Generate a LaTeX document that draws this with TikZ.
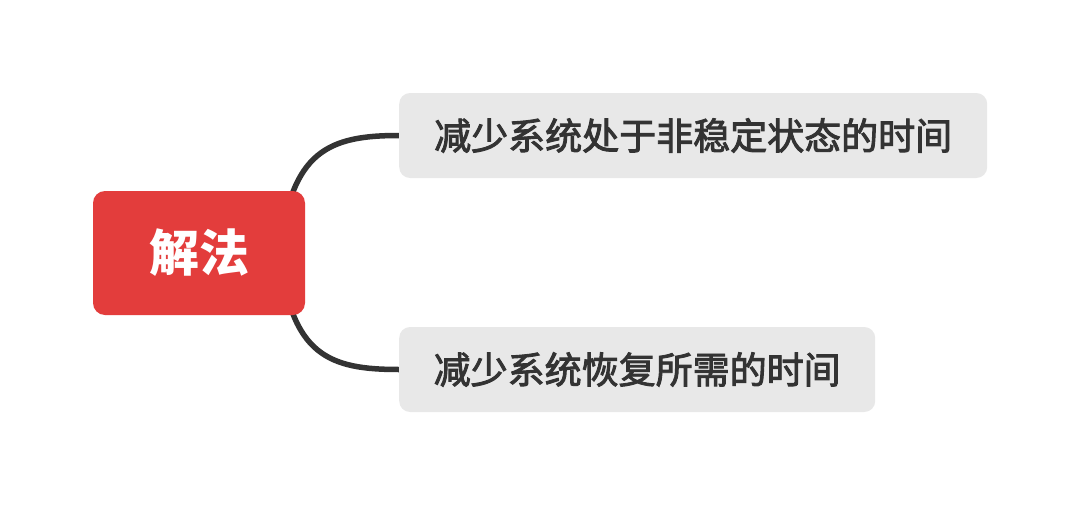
\documentclass[tikz,border=0pt]{standalone}
\usepackage{fontspec}
\newfontfamily\cjk{Noto Sans CJK SC}
\newfontfamily\cjkmed{Noto Sans CJK SC}[FakeBold=2.5]
\usetikzlibrary{backgrounds}
\definecolor{rootred}{HTML}{E33D3C}
\definecolor{leafgray}{HTML}{E8E8E8}
\definecolor{ink}{HTML}{333333}
\tikzset{
  rootbox/.style={fill=rootred, rounded corners=12pt, minimum width=212pt, minimum height=124pt, inner sep=0pt,
    text=white, font=\cjk\bfseries\fontsize{50}{60}\selectfont},
  leafbox/.style={fill=leafgray, rounded corners=11pt, minimum height=85pt, inner sep=0pt,
    text=ink, font=\cjkmed\fontsize{37}{44}\selectfont},
  link/.style={draw=ink, line width=5.5pt}
}
\begin{document}
\begin{tikzpicture}[x=1pt,y=1pt]
\useasboundingbox (0,0) rectangle (1080,-506);
\node[rootbox] (root) at (199,-253) {解法};
\node[leafbox, minimum width=588pt, anchor=west] (a) at (399,-135.5) {减少系统处于非稳定状态的时间};
\node[leafbox, minimum width=476pt, anchor=west] (b) at (399,-369.5) {减少系统恢复所需的时间};
\begin{scope}[on background layer]
\fill[white] (0,0) rectangle (1080,-506);
\draw[link] ([xshift=-25pt]root.east) .. controls +(10,103) and +(-69,0) .. (a.west);
\draw[link] ([xshift=-25pt]root.east) .. controls +(10,-103) and +(-69,0) .. (b.west);
\end{scope}
\end{tikzpicture}
\end{document}
